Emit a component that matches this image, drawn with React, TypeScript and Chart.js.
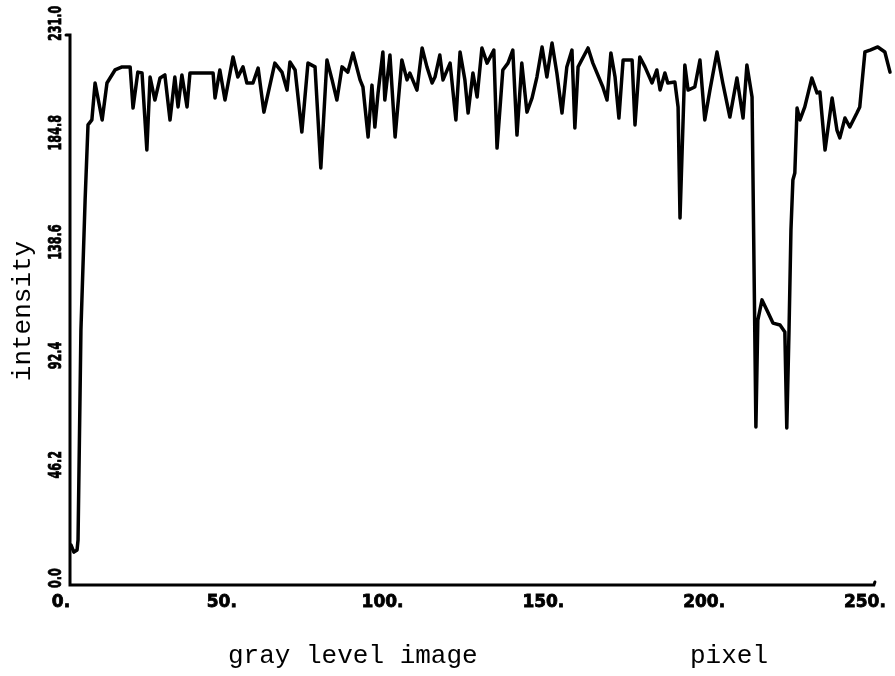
import React, { useEffect, useRef } from "react";
import { Chart, registerables } from "chart.js";

Chart.register(...registerables);

// pixel position along the scan line (x) and measured gray-level intensity (y)
const pixelPos = [
  0.3, 1.2, 2.2, 2.5, 3.4, 4.7, 5.6, 6.8, 7.8, 10.0, 11.5, 14.0, 16.2, 18.7, 19.6, 21.1, 22.4, 23.9, 24.9,
  26.4, 28.0, 29.5, 31.1, 32.6, 33.6, 34.8, 36.4, 37.3, 40.4, 44.5, 45.1, 46.6, 48.2, 50.7, 52.2, 53.8,
  55.0, 56.9, 58.5, 60.3, 63.7, 65.9, 67.5, 68.4, 70.0, 72.1, 74.0, 76.2, 78.0, 79.9, 81.5, 83.0, 84.6,
  86.4, 88.0, 90.2, 91.1, 92.7, 93.9, 94.8, 95.8, 97.3, 97.9, 99.5, 101.1, 103.2, 104.8, 105.7, 107.9,
  109.5, 111.0, 112.6, 113.5, 115.0, 116.0, 118.2, 120.0, 121.3, 122.8, 123.8, 125.3, 126.6, 128.1,
  129.7, 131.8, 132.8, 134.6, 136.2, 137.7, 139.0, 140.5, 142.1, 143.7, 145.2, 146.8, 148.3, 149.9,
  151.4, 153.0, 154.5, 156.1, 157.0, 158.0, 161.1, 162.6, 165.7, 167.0, 168.2, 169.5, 170.7, 172.0,
  174.8, 175.7, 177.2, 178.8, 181.0, 182.5, 183.5, 185.0, 185.9, 188.1, 189.1, 189.7, 191.2, 192.2,
  194.3, 195.9, 197.4, 199.0, 201.2, 203.0, 205.2, 207.4, 209.3, 210.5, 212.1, 213.3, 213.9, 215.2,
  217.0, 218.6, 220.8, 222.3, 222.9, 223.6, 224.2, 224.8, 225.4, 226.1, 227.0, 228.5, 230.7, 232.3,
  233.2, 234.8, 237.0, 238.5, 239.4, 241.0, 242.5, 244.7, 245.6, 247.2, 248.8, 251.2, 253.4, 255.0,
];

const intensity = [
  16.9, 13.9, 14.8, 19.0, 107.7, 162.6, 194.3, 196.4, 212.0, 196.4, 212.0, 217.5, 218.8, 218.8, 201.4,
  216.6, 216.2, 183.7, 214.5, 204.8, 214.1, 215.4, 196.4, 214.5, 201.9, 215.4, 201.9, 216.2, 216.2,
  216.2, 205.7, 217.5, 204.8, 223.0, 214.5, 218.8, 212.0, 212.0, 218.3, 199.7, 220.4, 216.6, 209.0,
  220.9, 217.5, 191.3, 220.4, 218.8, 176.1, 221.7, 213.3, 204.8, 218.8, 216.6, 224.7, 213.3, 210.3,
  189.2, 211.1, 193.4, 207.8, 225.1, 204.8, 223.8, 189.2, 221.7, 213.3, 216.2, 209.0, 226.8, 218.8,
  212.0, 214.5, 223.8, 213.3, 220.4, 196.4, 225.1, 213.3, 199.3, 216.2, 206.1, 226.8, 220.4, 225.9,
  184.5, 217.5, 220.4, 225.9, 190.0, 220.4, 199.7, 205.7, 214.5, 227.2, 214.5, 228.9, 216.2, 199.3,
  218.8, 225.9, 193.0, 218.8, 226.8, 220.4, 210.3, 204.8, 224.7, 214.5, 197.2, 221.7, 221.7, 194.3,
  223.0, 218.8, 212.0, 217.5, 209.0, 216.2, 212.0, 212.4, 201.9, 155.0, 219.6, 209.0, 210.3, 221.7,
  196.4, 209.0, 225.1, 212.0, 197.6, 214.1, 197.2, 219.6, 206.1, 66.7, 111.9, 120.4, 115.3, 110.6,
  109.8, 106.8, 66.3, 107.7, 149.9, 171.0, 174.0, 201.4, 196.4, 201.9, 214.1, 207.8, 208.2, 183.7,
  205.7, 192.1, 188.8, 197.2, 193.4, 199.3, 201.9, 225.1, 225.9, 227.2, 225.1, 216.6,
];

const xTicks = [0, 50, 100, 150, 200, 250];
const xTickLabels = ["0.", "50.", "100.", "150.", "200.", "250."];
const yTicks = [0, 46.2, 92.4, 138.6, 184.8, 231.0];
const yTickLabels = ["0.0", "46.2", "92.4", "138.6", "184.8", "231.0"];

const xTitleLeft = "gray level image";
const xTitleRight = "pixel";
const yTitle = "intensity";

const axesPlugin = {
  id: "oldPlotAxes",
  afterDraw(chart: any) {
    const ctx = chart.ctx;
    const xs = chart.scales.x;
    const ys = chart.scales.y;
    const x0 = xs.getPixelForValue(0);
    const y0 = ys.getPixelForValue(0);
    const yTop = ys.getPixelForValue(231);
    const xEnd = xs.getPixelForValue(250);
    ctx.save();
    ctx.strokeStyle = "#000";
    ctx.lineWidth = 3;
    ctx.lineCap = "round";
    ctx.beginPath();
    ctx.moveTo(x0 - 4, yTop - 3);
    ctx.lineTo(x0, yTop - 3);
    ctx.lineTo(x0, y0);
    ctx.lineTo(xEnd, y0);
    ctx.lineTo(xEnd + 1, y0 - 3);
    ctx.stroke();

    ctx.fillStyle = "#000";
    ctx.strokeStyle = "#000";
    ctx.lineWidth = 0.8;
    // x tick labels
    ctx.font = "bold 17px 'DejaVu Sans'";
    ctx.textAlign = "center";
    ctx.textBaseline = "middle";
    xTicks.forEach((v, i) => {
      const px = xs.getPixelForValue(v) - 9;
      ctx.fillText(xTickLabels[i], px, y0 + 18);
      ctx.strokeText(xTickLabels[i], px, y0 + 18);
    });
    // y tick labels (rotated, condensed)
    yTicks.forEach((v, i) => {
      const py = ys.getPixelForValue(v);
      ctx.save();
      ctx.translate(x0 - 14, py + 3);
      ctx.rotate(-Math.PI / 2);
      ctx.scale(0.62, 1);
      ctx.textAlign = "left";
      ctx.textBaseline = "middle";
      ctx.font = "bold 18px 'DejaVu Sans'";
      ctx.fillText(yTickLabels[i], 0, 0);
      ctx.strokeText(yTickLabels[i], 0, 0);
      ctx.restore();
    });
    // titles
    ctx.font = "26px 'Liberation Mono'";
    ctx.textAlign = "left";
    ctx.textBaseline = "alphabetic";
    ctx.fillText(xTitleLeft, 228, 663);
    ctx.fillText(xTitleRight, 690, 663);
    ctx.save();
    ctx.translate(30, 311);
    ctx.rotate(-Math.PI / 2);
    ctx.textAlign = "center";
    ctx.fillText(yTitle, 0, 0);
    ctx.restore();
    ctx.restore();
  },
};

export default function App() {
  const ref = useRef<HTMLCanvasElement | null>(null);
  useEffect(() => {
    if (!ref.current) return;
    const chart = new Chart(ref.current, {
      type: "line",
      data: {
        datasets: [
          {
            data: pixelPos.map((x, i) => ({ x, y: intensity[i] })),
            borderColor: "#000",
            borderWidth: 3.5,
            pointRadius: 0,
            tension: 0,
            fill: false,
            borderJoinStyle: "round",
            borderCapStyle: "round",
            clip: false,
          } as any,
        ],
      },
      options: {
        animation: false,
        responsive: false,
        devicePixelRatio: 1,
        layout: { padding: { left: 70, right: 5, top: 38, bottom: 91 } },
        plugins: { legend: { display: false }, tooltip: { enabled: false } },
        scales: {
          x: { type: "linear", min: 0, max: 255, display: false },
          y: { type: "linear", min: 0, max: 231, display: false },
        },
      },
      plugins: [axesPlugin],
    });
    return () => chart.destroy();
  }, []);
  return (
    <div style={{ position: "fixed", left: 0, top: 0, width: 895, height: 676, background: "#fff" }}>
      <canvas ref={ref} width={895} height={676} style={{ display: "block" }} />
    </div>
  );
}
